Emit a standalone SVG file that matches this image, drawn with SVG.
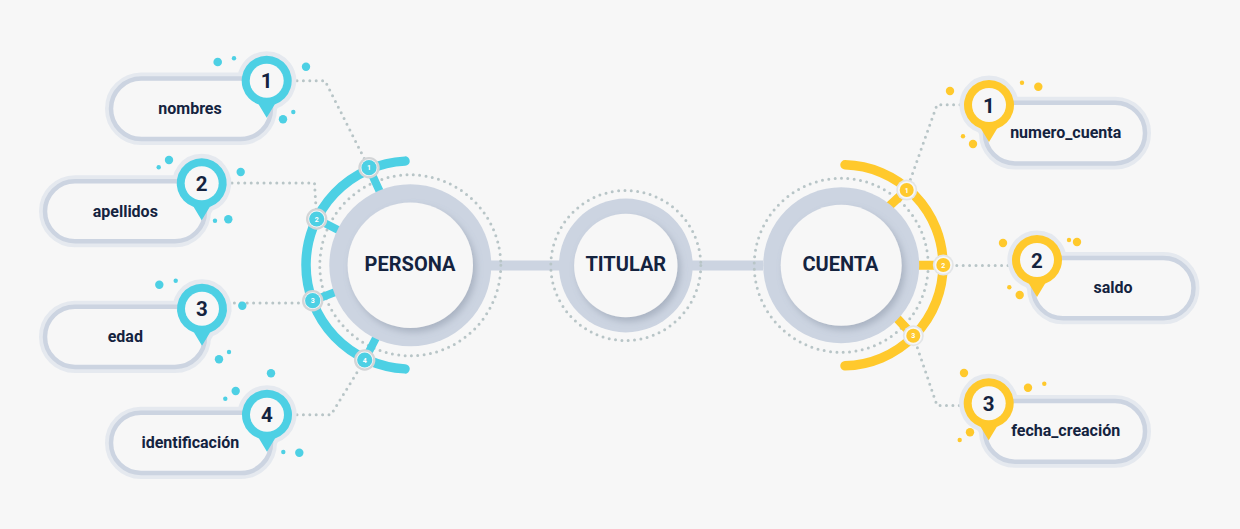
<svg xmlns="http://www.w3.org/2000/svg" width="1240" height="529" viewBox="0 0 1240 529">
<style>
text{font-family:Roboto,"Liberation Sans",sans-serif;font-weight:700;fill:#14233f;text-anchor:middle}
.lbl{font-size:16px}
.num{font-size:20.5px}
.main{font-size:20px}
.sm{font-size:7px;fill:#fff}
.dot{fill:none;stroke:#b8c5c7;stroke-width:3;stroke-linecap:round;stroke-dasharray:0 6.4}
.halo{fill:#e5e9ef;stroke:#e5e9ef;stroke-width:9;stroke-linejoin:round}
.pill{fill:#f7f7f7;stroke:#ccd4e1;stroke-width:4.5}
.pillh{fill:none;stroke:#e5e9ef;stroke-width:12}
.hole{fill:#f7f7f7}
.ring{fill:#ccd4e1}
.b{fill:#4dd0e4}
.y{fill:#ffc92c}
.bs{stroke:#4dd0e4;fill:none}
.ys{stroke:#ffc92c;fill:none}
</style>
<defs>
<path id="pin" d="M0,37 L-8,23.7 A25,25 0 1 1 8,23.7 Z"/>
<filter id="sh" x="-30%" y="-30%" width="170%" height="170%"><feDropShadow dx="3" dy="4" stdDeviation="3.500" flood-color="#7f8a9c" flood-opacity="0.45"/></filter>
</defs>
<rect width="1240" height="529" fill="#f7f7f7"/>
<g id="connectors">
<path d="M491 265.5H763" stroke="#ccd4e1" stroke-width="10" fill="none"/>
<path class="dot" d="M297 80.7H325L369 168"/>
<path class="dot" d="M232 183H314.500L316.700 219"/>
<path class="dot" d="M228 303H312.700"/>
<path class="dot" d="M297 414.700H331L364.700 360"/>
<path class="dot" d="M960 104.700H937L906.700 190"/>
<path class="dot" d="M1008 265.500H943"/>
<path class="dot" d="M913.300 335.700L937 405.500H962"/>
</g>
<g id="persona">
<circle class="dot" cx="410.300" cy="265.300" r="90.500"/>
<path class="bs" stroke-width="8" d="M369 168L380 192M316.700 219L342 232M312.700 300.700L338 291M364.700 360L377 336"/>
<circle class="ring" cx="410.300" cy="265.300" r="81"/>
<circle class="hole" cx="410.300" cy="265.300" r="62.700" filter="url(#sh)"/>
<text class="main" x="410" y="271">PERSONA</text>
<path class="bs" stroke-width="9.500" stroke-linecap="round" d="M405 161.120A104 104 0 0 0 306 265A104 104 0 0 0 405 368.880"/>
</g>
<g id="titular">
<circle class="dot" cx="625.800" cy="265.500" r="75"/>
<circle class="ring" cx="625.800" cy="265.500" r="66.900"/>
<circle class="hole" cx="625.800" cy="265.500" r="51.700" filter="url(#sh)"/>
<text class="main" x="625.800" y="271">TITULAR</text>
</g>
<g id="cuenta">
<circle class="dot" cx="841.200" cy="265.300" r="87"/>
<path class="ys" stroke-width="9" d="M906.700 190L885 210M943 265.300H915M913.300 335.700L893 314"/>
<circle class="ring" cx="841.200" cy="265.300" r="78"/>
<circle class="hole" cx="841.200" cy="265.300" r="60.500" filter="url(#sh)"/>
<text class="main" x="840.500" y="271">CUENTA</text>
<path class="ys" stroke-width="9.500" stroke-linecap="round" d="M845 164.830A100.500 100.500 0 0 1 943 265.300A100.500 100.500 0 0 1 845 365.770"/>
</g>
<g id="persona-ports">
<circle cx="369" cy="167.700" r="10.700" fill="#d3d5d7"/><circle cx="369" cy="167.700" r="8.400" class="hole"/><circle cx="369" cy="167.700" r="7.600" class="b"/><text class="sm" x="369" y="170.200">1</text>
<circle cx="316.700" cy="219" r="10.700" fill="#d3d5d7"/><circle cx="316.700" cy="219" r="8.400" class="hole"/><circle cx="316.700" cy="219" r="7.600" class="b"/><text class="sm" x="316.700" y="221.500">2</text>
<circle cx="312.700" cy="300.700" r="10.700" fill="#d3d5d7"/><circle cx="312.700" cy="300.700" r="8.400" class="hole"/><circle cx="312.700" cy="300.700" r="7.600" class="b"/><text class="sm" x="312.700" y="303.200">3</text>
<circle cx="364.700" cy="360" r="10.700" fill="#d3d5d7"/><circle cx="364.700" cy="360" r="8.400" class="hole"/><circle cx="364.700" cy="360" r="7.600" class="b"/><text class="sm" x="364.700" y="362.500">4</text>
</g>
<g id="cuenta-ports">
<circle cx="906.700" cy="190" r="10.500" fill="#e3e5e7"/><circle cx="906.700" cy="190" r="8.800" class="hole"/><circle cx="906.700" cy="190" r="7" class="y"/><text class="sm" x="906.700" y="192.500">1</text>
<circle cx="943.300" cy="265" r="10.500" fill="#e3e5e7"/><circle cx="943.300" cy="265" r="8.800" class="hole"/><circle cx="943.300" cy="265" r="7" class="y"/><text class="sm" x="943.300" y="267.500">2</text>
<circle cx="913.300" cy="335.700" r="10.500" fill="#e3e5e7"/><circle cx="913.300" cy="335.700" r="8.800" class="hole"/><circle cx="913.300" cy="335.700" r="7" class="y"/><text class="sm" x="913.300" y="338.200">3</text>
</g>
<g id="nombres">
<use href="#pin" class="halo" x="266.700" y="80.700"/>
<rect class="pillh" x="111" y="78.500" width="160" height="60.500" rx="30.250"/>
<rect class="pill" x="111" y="78.500" width="160" height="60.500" rx="30.250"/>
<use href="#pin" class="b" x="266.700" y="80.700"/>
<circle class="hole" cx="266.700" cy="80.700" r="17"/>
<text class="num" x="266.700" y="88.200">1</text>
<text class="lbl" x="190" y="114">nombres</text>
<g class="b"><circle cx="217.700" cy="62" r="4.300"/><circle cx="234" cy="58.300" r="2.200"/><circle cx="306" cy="66.700" r="4.200"/><circle cx="283" cy="119.300" r="4.200"/><circle cx="293.300" cy="112" r="2.200"/></g>
</g>
<g id="apellidos">
<use href="#pin" class="halo" x="201.700" y="183.300"/>
<rect class="pillh" x="45" y="181.300" width="160" height="60" rx="30"/>
<rect class="pill" x="45" y="181.300" width="160" height="60" rx="30"/>
<use href="#pin" class="b" x="201.700" y="183.300"/>
<circle class="hole" cx="201.700" cy="183.300" r="17"/>
<text class="num" x="201.700" y="190.800">2</text>
<text class="lbl" x="125.300" y="216.700">apellidos</text>
<g class="b"><circle cx="169" cy="160" r="4.200"/><circle cx="158.700" cy="167.300" r="2.200"/><circle cx="240.700" cy="172" r="4.200"/><circle cx="228.300" cy="219.300" r="4.200"/><circle cx="215" cy="220.700" r="2.200"/></g>
</g>
<g id="edad">
<use href="#pin" class="halo" x="202" y="308.700"/>
<rect class="pillh" x="45" y="306.700" width="160" height="60.300" rx="30"/>
<rect class="pill" x="45" y="306.700" width="160" height="60.300" rx="30"/>
<use href="#pin" class="b" x="202" y="308.700"/>
<circle class="hole" cx="202" cy="308.700" r="17"/>
<text class="num" x="202" y="316.200">3</text>
<text class="lbl" x="125.300" y="342">edad</text>
<g class="b"><circle cx="159.300" cy="284.700" r="4.200"/><circle cx="175.700" cy="280.700" r="2.200"/><circle cx="242.300" cy="305.700" r="4.200"/><circle cx="219" cy="359.300" r="4.200"/><circle cx="229" cy="352" r="2.200"/></g>
</g>
<g id="identificacion">
<use href="#pin" class="halo" x="267" y="414.700"/>
<rect class="pillh" x="111" y="412.700" width="160" height="60.300" rx="30"/>
<rect class="pill" x="111" y="412.700" width="160" height="60.300" rx="30"/>
<use href="#pin" class="b" x="267" y="414.700"/>
<circle class="hole" cx="267" cy="414.700" r="17"/>
<text class="num" x="267" y="422.200">4</text>
<text class="lbl" x="190.300" y="448">identificación</text>
<g class="b"><circle cx="271" cy="373.300" r="4.200"/><circle cx="235.700" cy="391" r="4.200"/><circle cx="225.300" cy="398.700" r="2.200"/><circle cx="299.300" cy="452.700" r="4.200"/><circle cx="283.300" cy="452" r="2.200"/></g>
</g>
<g id="numero_cuenta">
<use href="#pin" class="halo" x="989" y="105"/>
<rect class="pillh" x="985" y="102.700" width="160" height="60.800" rx="30"/>
<rect class="pill" x="985" y="102.700" width="160" height="60.800" rx="30"/>
<use href="#pin" class="y" x="989" y="105"/>
<circle class="hole" cx="989" cy="105" r="17"/>
<text class="num" x="989" y="112.500">1</text>
<text class="lbl" x="1065.700" y="138">numero_cuenta</text>
<g class="y"><circle cx="950" cy="91" r="4.200"/><circle cx="1022" cy="82.700" r="2.200"/><circle cx="1038.300" cy="86.700" r="4.200"/><circle cx="973" cy="144" r="4.200"/><circle cx="963" cy="136.300" r="2.200"/></g>
</g>
<g id="saldo">
<use href="#pin" class="halo" x="1037" y="260"/>
<rect class="pillh" x="1033" y="258" width="160.500" height="60.300" rx="30"/>
<rect class="pill" x="1033" y="258" width="160.500" height="60.300" rx="30"/>
<use href="#pin" class="y" x="1037" y="260"/>
<circle class="hole" cx="1037" cy="260" r="17"/>
<text class="num" x="1037" y="267.500">2</text>
<text class="lbl" x="1113" y="292.700">saldo</text>
<g class="y"><circle cx="1003" cy="243" r="4.200"/><circle cx="1069" cy="240" r="2.200"/><circle cx="1077" cy="242" r="4.200"/><circle cx="1019.700" cy="295" r="4.200"/><circle cx="1009.300" cy="287.300" r="2.200"/></g>
</g>
<g id="fecha_creacion">
<use href="#pin" class="halo" x="988.700" y="403.300"/>
<rect class="pillh" x="985" y="401" width="160" height="60.700" rx="30"/>
<rect class="pill" x="985" y="401" width="160" height="60.700" rx="30"/>
<use href="#pin" class="y" x="988.700" y="403.300"/>
<circle class="hole" cx="988.700" cy="403.300" r="17"/>
<text class="num" x="988.700" y="410.800">3</text>
<text class="lbl" x="1065.700" y="436">fecha_creación</text>
<g class="y"><circle cx="964" cy="373" r="4.200"/><circle cx="1028" cy="387.700" r="4.200"/><circle cx="1044.300" cy="383.700" r="2.200"/><circle cx="970" cy="432.300" r="4.200"/><circle cx="959.700" cy="440" r="2.200"/></g>
</g>
</svg>
